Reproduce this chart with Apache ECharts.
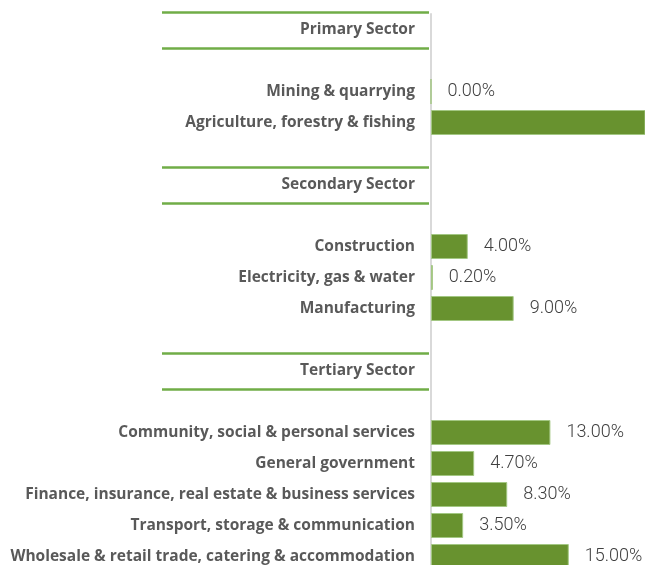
<!DOCTYPE html>
<html>
<head>
<meta charset="utf-8">
<script src="https://cdn.jsdelivr.net/npm/echarts@6/dist/echarts.min.js"></script>
<style>
  html, body { margin: 0; padding: 0; background: #fff; }
  #chart { width: 645px; height: 565px; }
</style>
</head>
<body>
<div id="chart"></div>
<script>
// sector headers and their rows (top to bottom)
const sectorNames = ['Primary Sector', 'Secondary Sector', 'Tertiary Sector'];

const primaryItems = ['Mining & quarrying', 'Agriculture, forestry & fishing'];
const primaryValues = [0, 28];

const secondaryItems = ['Construction', 'Electricity, gas & water', 'Manufacturing'];
const secondaryValues = [4, 0.2, 9];

const tertiaryItems = [
  'Community, social & personal services',
  'General government',
  'Finance, insurance, real estate & business services',
  'Transport, storage & communication',
  'Wholesale & retail trade, catering & accommodation'
];
const tertiaryValues = [13, 4.7, 8.3, 3.5, 15];

const groups = [
  [primaryItems, primaryValues],
  [secondaryItems, secondaryValues],
  [tertiaryItems, tertiaryValues]
];

// build category list: header, blank row, items, blank row before next header
let categories = [];
let values = [];
let headerRows = [];
let blankCount = 0;
function blank() {
  blankCount++;
  categories.push(' '.repeat(blankCount));
  values.push('-');
}
for (let i = 0; i < sectorNames.length; i++) {
  if (i > 0) blank();
  headerRows.push([0, categories.length]);
  categories.push(sectorNames[i]);
  values.push('-');
  blank();
  for (let j = 0; j < groups[i][0].length; j++) {
    categories.push(groups[i][0][j]);
    values.push(groups[i][1][j]);
  }
}

const chart = echarts.init(document.getElementById('chart'));
chart.setOption({
  animation: false,
  grid: {
    left: 431,
    right: 0,
    top: 14,
    height: 558,
    outerBoundsMode: 'none'
  },
  xAxis: {
    type: 'value',
    min: 0,
    max: 23.3,
    show: false
  },
  yAxis: {
    type: 'category',
    inverse: true,
    data: categories,
    axisTick: { show: false },
    axisLine: { show: true, lineStyle: { color: '#d9d9d9', width: 2 } },
    axisLabel: {
      margin: 16,
      color: '#595959',
      fontFamily: 'Open Sans',
      fontWeight: 'bold',
      fontSize: 15.5
    }
  },
  series: [
    {
      type: 'bar',
      data: values,
      barWidth: 25,
      itemStyle: {
        color: '#68922f',
        borderColor: '#a3c783',
        borderWidth: 1
      },
      label: {
        show: true,
        position: 'right',
        distance: 16,
        color: '#404040',
        fontFamily: 'Roboto',
        fontWeight: 300,
        fontSize: 18,
        formatter: function (p) {
          return p.value.toFixed(2) + '%';
        }
      }
    },
    {
      // green rules above and below each sector header
      type: 'custom',
      clip: false,
      silent: true,
      data: headerRows,
      renderItem: function (params, api) {
        const p = api.coord([0, api.value(1)]);
        const x0 = 162;
        const x1 = p[0] - 2;
        const style = { stroke: '#70ad47', lineWidth: 2.5 };
        return {
          type: 'group',
          children: [
            { type: 'line', shape: { x1: x0, y1: p[1] - 17, x2: x1, y2: p[1] - 17 }, style: style },
            { type: 'line', shape: { x1: x0, y1: p[1] + 19, x2: x1, y2: p[1] + 19 }, style: style }
          ]
        };
      }
    }
  ]
});
</script>
</body>
</html>
